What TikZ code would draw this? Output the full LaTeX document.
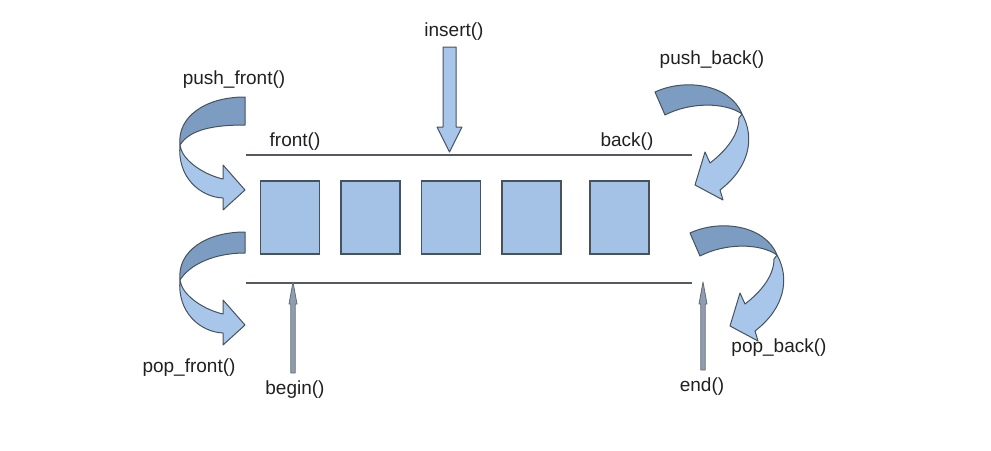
\documentclass[tikz,border=0pt]{standalone}
\usepackage{fontspec}
\setmainfont{Liberation Sans}
\usetikzlibrary{calc}
\definecolor{DequeBox}{HTML}{A3C2E6}
\definecolor{DequeLight}{HTML}{A7C6EA}
\definecolor{DequeDark}{HTML}{7D9CC1}
\definecolor{DequeEdge}{HTML}{46525E}
\definecolor{DequeGrey}{HTML}{8E9DAF}
\definecolor{DequeLine}{HTML}{555A60}
\definecolor{DequeText}{HTML}{202020}
\tikzset{
    % element boxes of the deque
    element/.style={
        rectangle,
        draw=DequeEdge,
        fill=DequeBox,
        line width=1.2pt,
        minimum width=59pt,
        minimum height=73pt,
        inner sep=0pt
    },
    op label/.style={
        font=\fontsize{19}{22}\selectfont,
        text=DequeText,
        anchor=base,
        inner sep=0pt
    },
    rail/.style={
        draw=DequeLine,
        line width=1.6pt
    },
    ribbon dark/.style={
        fill=DequeDark,
        draw=DequeEdge,
        line width=1pt,
        line join=round
    },
    ribbon light/.style={
        fill=DequeLight,
        draw=DequeEdge,
        line width=1pt,
        line join=round
    },
    iterator/.style={
        fill=DequeGrey,
        draw=DequeEdge!85,
        line width=0.8pt,
        line join=round
    },
    % curved arrow on the front side, #1 = tail thickness
    pics/front turn/.style={code={
        \path[ribbon light] (-65,48) .. controls (-68,80) and (-45,100) .. (-22,101)
            -- (-22,113) -- (0,93) -- (-22,68) -- (-22,82)
            .. controls (-40,78) and (-60,65) .. (-64,52) -- cycle;
        \path[ribbon dark] (0,0) .. controls (-40,0) and (-68,20) .. (-65,48)
            .. controls (-55,32) and (-30,#1) .. (0,#1) -- cycle;
    }},
    % curved arrow on the back side
    pics/back turn/.style={code={
        \path[ribbon light] (87,22) .. controls (100,45) and (95,75) .. (65,98)
            -- (68,108) -- (40,93) -- (50,60) -- (55,71)
            .. controls (72,58) and (84,42) .. (84,26) -- cycle;
        \path[ribbon dark] (0,0) .. controls (30,-14) and (75,-8) .. (87,22)
            .. controls (70,10) and (35,10) .. (10,23) -- cycle;
    }},
    pics/block down/.style={code={
        \path[ribbon light] (0,0) -- (-12.5,-25) -- (-6.5,-25) -- (-6.5,-105)
            -- (6.5,-105) -- (6.5,-25) -- (12.5,-25) -- cycle;
    }},
    % thin iterator arrow, #1 = length
    pics/iter up/.style={code={
        \path[iterator] (0,0) -- (4,22) -- (2.2,22) -- (2.2,#1) -- (-2.2,#1)
            -- (-2.2,22) -- (-4,22) -- cycle;
    }}
}

\begin{document}
\begin{tikzpicture}[x=1pt, y=-1pt]
    \useasboundingbox (0,0) rectangle (991,450);

    % rails
    \coordinate (top west) at (246,155);
    \coordinate (top east) at (692,155);
    \coordinate (bottom west) at (246,283);
    \coordinate (bottom east) at (692,283);
    \draw[rail] (top west) -- (top east);
    \draw[rail] (bottom west) -- (bottom east);

    % elements
    \node[element] (e1) at (290,217.5) {};
    \node[element] (e2) at (370.5,217.5) {};
    \node[element] (e3) at (451,217.5) {};
    \node[element] (e4) at (531.5,217.5) {};
    \node[element] (e5) at (619.5,217.5) {};

    % operations
    \node[op label] (insert) at (454,36) {insert()};
    \node[op label] (front) at (295,146) {front()};
    \node[op label] (back) at (627,146) {back()};
    \node[op label] (pushfront) at (234,84) {push\_front()};
    \node[op label] (pushback) at (712,64) {push\_back()};
    \node[op label] (popfront) at (189,372) {pop\_front()};
    \node[op label] (popback) at (779,352) {pop\_back()};
    \node[op label] (begin) at (295,394) {begin()};
    \node[op label] (end) at (702,391) {end()};

    \coordinate (insert tip) at (449.5,152);
    \coordinate (begin tip) at (293,282);
    \coordinate (end tip) at (703,282);

    \pic at (insert tip) {block down};
    \pic at (begin tip) {iter up=91};
    \pic at (end tip) {iter up=88};

    \pic at (245,97) {front turn=28};
    \pic at (245,232) {front turn=21};
    \pic at (655,92) {back turn};
    \pic at (690,233) {back turn};
\end{tikzpicture}
\end{document}
